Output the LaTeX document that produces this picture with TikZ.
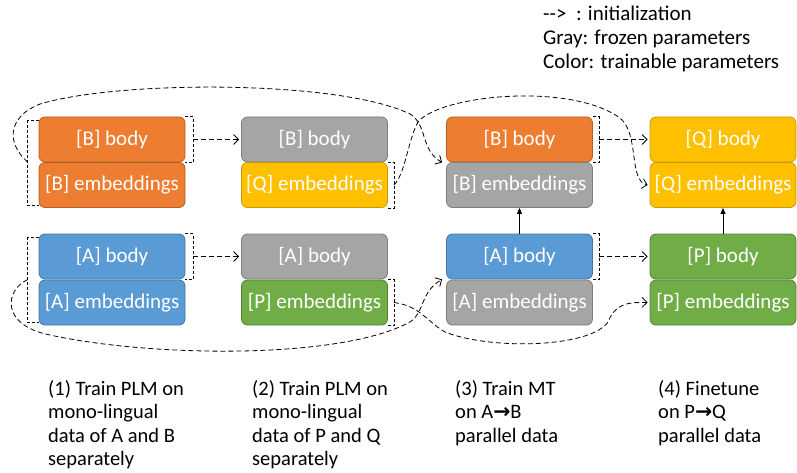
\documentclass[tikz,border=0pt]{standalone}
\usepackage{fontspec}
\setmainfont{Carlito}
\newfontfamily\arrowfont{DejaVu Sans}
\usetikzlibrary{arrows.meta}

\definecolor{orng}{HTML}{ED7D31}
\definecolor{gry}{HTML}{A5A5A5}
\definecolor{ylw}{HTML}{FFC000}
\definecolor{blu}{HTML}{5B9BD5}
\definecolor{grn}{HTML}{70AD47}

\newcommand{\thickto}{{\arrowfont\bfseries →}}

\tikzset{
  box/.style={rounded corners=6pt, minimum width=146pt, minimum height=45pt,
    inner sep=0pt, text=white, line width=0.8pt, font=\fontsize{21}{25}\selectfont},
  orangebox/.style={box, fill=orng, draw=orng!75!black},
  graybox/.style={box, fill=gry, draw=gry!75!black},
  yellowbox/.style={box, fill=ylw, draw=ylw!80!black},
  bluebox/.style={box, fill=blu, draw=blu!75!black},
  greenbox/.style={box, fill=grn, draw=grn!75!black},
  frame/.style={line width=0.7pt, dash pattern=on 3pt off 2pt},
  init/.style={line width=0.8pt, dash pattern=on 5pt off 3pt,
    -{Straight Barb[length=5pt,width=10pt]}},
  up/.style={line width=0.9pt, -{Triangle[length=6pt,width=5pt]}},
  caption/.style={anchor=north west, align=left, inner sep=0pt,
    font=\fontsize{20.5}{23.5}\selectfont}
}

\begin{document}
\begin{tikzpicture}[x=1pt, y=-1pt]
        \useasboundingbox (0,0) rectangle (797,473);

        % Legend
        \node[anchor=west, align=left, inner sep=0pt,
          font=\fontsize{21}{24}\selectfont] (legend) at (543,39)
          {{-}{-}>\ \ : initialization\\Gray: frozen parameters\\Color: trainable parameters};

        % Step 1: two PLMs
        \node[orangebox] (b1) at (112,139.5) {[B] body};
        \node[orangebox] (be1) at (112,185) {[B] embeddings};
        \node[bluebox] (a1) at (112,256.5) {[A] body};
        \node[bluebox] (ae1) at (112,302.5) {[A] embeddings};

        % Step 2: frozen bodies, new embeddings
        \node[graybox] (b2) at (314.5,139.5) {[B] body};
        \node[yellowbox] (qe2) at (314.5,185) {[Q] embeddings};
        \node[graybox] (a2) at (314.5,256.5) {[A] body};
        \node[greenbox] (pe2) at (314.5,302.5) {[P] embeddings};

        % Step 3: MT model A -> B
        \node[orangebox] (b3) at (519.5,139.5) {[B] body};
        \node[graybox] (be3) at (519.5,185) {[B] embeddings};
        \node[bluebox] (a3) at (519.5,256.5) {[A] body};
        \node[graybox] (ae3) at (519.5,302.5) {[A] embeddings};

        % Step 4: MT model P -> Q
        \node[yellowbox] (q4) at (723,139.5) {[Q] body};
        \node[yellowbox] (qe4) at (723,185) {[Q] embeddings};
        \node[greenbox] (p4) at (723,256.5) {[P] body};
        \node[greenbox] (pe4) at (723,302.5) {[P] embeddings};

        % Dashed brackets
        \draw[frame] ([yshift=-4pt]b1.north west) -- ++(-11,0) |- ([yshift=3pt]be1.south west);
        \draw[frame] ([yshift=-4pt]a1.north west) -- ++(-11,0) |- ([yshift=3pt]ae1.south west);
        \draw[frame] (b1.north east) -- ++(8,0) |- (b1.south east);
        \draw[frame] (a1.north east) -- ++(8,0) |- (a1.south east);
        \draw[frame] (qe2.north east) -- ++(6,0) |- (qe2.south east);
        \draw[frame] (pe2.north east) -- ++(6,0) |- (pe2.south east);
        \draw[frame] (b3.north east) -- ++(6,0) |- (b3.south east);
        \draw[frame] (a3.north east) -- ++(6,0) |- (a3.south east);

        \coordinate (b1l) at ([xshift=-11pt]be1.north west);
        \coordinate (a1l) at ([xshift=-11pt]ae1.north west);
        \coordinate (b1r) at ([xshift=8pt]b1.east);
        \coordinate (a1r) at ([xshift=8pt]a1.east);
        \coordinate (qe2r) at ([xshift=6pt]qe2.east);
        \coordinate (pe2r) at ([xshift=6pt]pe2.east);
        \coordinate (b3r) at ([xshift=6pt]b3.east);
        \coordinate (a3r) at ([xshift=6pt]a3.east);

        % Initialization arrows
        \draw[init] (b1r) -- ([xshift=-2pt]b2.west);
        \draw[init] (a1r) -- ([xshift=-2pt]a2.west);
        \draw[init] (b3r) -- ([xshift=-2pt]q4.west);
        \draw[init] (a3r) -- ([xshift=-2pt]p4.west);

        \draw[init] (b1l) .. controls (8,145) and (5,118) .. (40,104)
          .. controls (120,80) and (340,80) .. (410,114)
          .. controls (428,125) and (420,150) .. ([xshift=-4pt]b3.south west);
        \draw[init] (qe2r) .. controls (405,175) and (408,140) .. (418,122)
          .. controls (440,95) and (570,82) .. (620,118)
          .. controls (640,135) and (628,180) .. ([xshift=-2pt]qe4.west);
        \draw[init] (a1l) .. controls (5,290) and (0,325) .. (50,335)
          .. controls (150,357) and (340,360) .. (410,322)
          .. controls (425,312) and (420,292) .. ([xshift=-4pt]a3.south west);
        \draw[init] (pe2r) .. controls (420,306) and (425,320) .. (445,332)
          .. controls (490,350) and (590,348) .. (608,322)
          .. controls (615,305) and (625,302) .. ([xshift=-2pt]pe4.west);

        % Encoder to decoder
        \draw[up] (a3.north) -- (be3.south);
        \draw[up] (p4.north) -- (qe4.south);

        % Captions
        \node[caption] (cap1) at (48,380) {(1) Train PLM on\\mono-lingual\\data of A and B\\separately};
        \node[caption] (cap2) at (252,380) {(2) Train PLM on\\mono-lingual\\data of P and Q\\separately};
        \node[caption] (cap3) at (455,380) {(3) Train MT\\on A\thickto B\\parallel data};
        \node[caption] (cap4) at (658,380) {(4) Finetune\\on P\thickto Q\\parallel data};

\end{tikzpicture}
\end{document}
